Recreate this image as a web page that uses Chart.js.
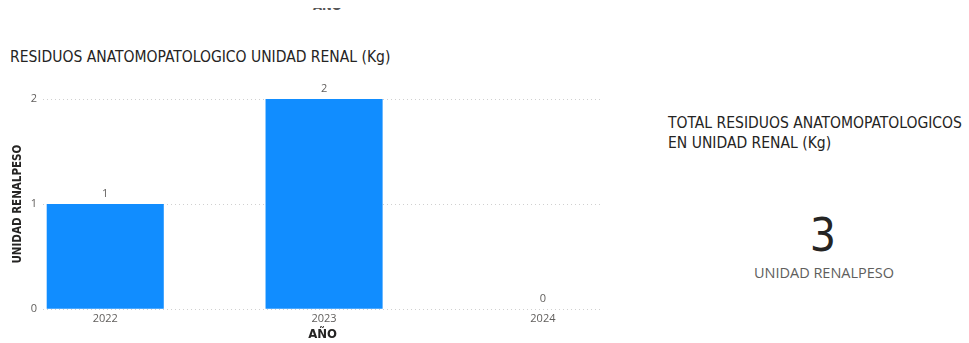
<!DOCTYPE html>
<html>
<head>
<meta charset="utf-8">
<script src="https://cdn.jsdelivr.net/npm/chart.js@4/dist/chart.umd.min.js"></script>
<style>
  body { margin: 0; background: #fff; width: 969px; height: 343px; overflow: hidden; position: relative; font-family: "DejaVu Sans Condensed", "Liberation Sans Narrow", sans-serif; }
  #wrap { position: absolute; left: 0; top: 0; width: 620px; height: 342px; }
  .txt { position: absolute; color: #252423; white-space: nowrap; }
  #topClip { position: absolute; left: 305px; top: 8px; width: 50px; height: 7px; overflow: hidden; }
  #topAxis { left: 8px; top: -10px; font-size: 13px; font-weight: bold; color: #555; }
  #title { left: 10px; top: 48px; font-size: 15.5px; }
  #cardTitle { left: 668px; top: 113px; font-size: 15.5px; line-height: 20px; }
  #cardValue { left: 823px; top: 208px; font-size: 46px; transform: translateX(-50%); font-family: "DejaVu Sans Condensed", sans-serif; }
  #cardLabel { left: 824px; top: 263px; font-size: 14.5px; color: #605e5c; transform: translateX(-50%); font-family: "Open Sans", sans-serif; }
</style>
</head>
<body>
<div id="topClip"><div class="txt" id="topAxis">AÑO</div></div>
<div class="txt" id="title">RESIDUOS ANATOMOPATOLOGICO UNIDAD RENAL (Kg)</div>
<div id="wrap"><canvas id="barChart"></canvas></div>
<div class="txt" id="cardTitle">TOTAL RESIDUOS ANATOMOPATOLOGICOS<br>EN UNIDAD RENAL (Kg)</div>
<div class="txt" id="cardValue"></div>
<div class="txt" id="cardLabel">UNIDAD RENALPESO</div>
<script>
const years = ["2022", "2023", "2024"];
const pesoKg = [1, 2, 0];
const yTicks = [0, 1, 2];

const totalKg = pesoKg.reduce((a, b) => a + b, 0);
document.getElementById("cardValue").textContent = totalKg;

// etiquetas de valor encima de cada barra
const valueLabels = {
  id: "valueLabels",
  afterDatasetsDraw(chart) {
    const ctx = chart.ctx;
    const meta = chart.getDatasetMeta(0);
    ctx.save();
    ctx.font = "11px 'Open Sans', sans-serif";
    ctx.fillStyle = "#605e5c";
    ctx.textAlign = "center";
    ctx.textBaseline = "bottom";
    meta.data.forEach(function (bar, i) {
      ctx.fillText(pesoKg[i], bar.x, bar.y - 5);
    });
    ctx.restore();
  },
};

const ctx = document.getElementById("barChart");
new Chart(ctx, {
  type: "bar",
  data: {
    datasets: [
      {
        label: "UNIDAD RENALPESO",
        data: years.map((y, i) => ({ x: i, y: pesoKg[i] })),
        backgroundColor: "#118DFF",
        categoryPercentage: 1,
        barPercentage: 0.535,
      },
    ],
  },
  plugins: [valueLabels],
  options: {
    responsive: true,
    maintainAspectRatio: false,
    animation: false,
    layout: { padding: { top: 99, right: 18, left: 11, bottom: 0 } },
    plugins: { legend: { display: false }, tooltip: { enabled: false } },
    scales: {
      x: {
        type: "linear",
        offset: false,
        min: -0.284,
        max: 2.27,
        grid: { display: false, drawTicks: false },
        border: { display: false },
        afterBuildTicks: (scale) => {
          scale.ticks = years.map((y, i) => ({ value: i }));
        },
        ticks: {
          callback: (v) => years[v],
          color: "#605e5c",
          font: { family: "'Open Sans', sans-serif", size: 11 },
          padding: 3,
        },
        title: {
          display: true,
          text: "AÑO",
          color: "#252423",
          font: { family: "'DejaVu Sans Condensed', sans-serif", size: 13, weight: "bold" },
          padding: { top: -2, bottom: 0 },
        },
      },
      y: {
        min: 0,
        max: 2,
        afterBuildTicks: (scale) => {
          scale.ticks = yTicks.map((v) => ({ value: v }));
        },
        grid: { color: "#d0d0d0", lineWidth: 1, tickLength: 0, drawTicks: false },
        border: { display: false, dash: [1, 3] },
        ticks: {
          color: "#605e5c",
          font: { family: "'Open Sans', sans-serif", size: 11 },
          padding: 6,
        },
        title: {
          display: true,
          text: "UNIDAD RENALPESO",
          color: "#252423",
          font: { family: "'DejaVu Sans Condensed', sans-serif", size: 11.5, weight: "bold" },
          padding: { top: 0, bottom: 0 },
        },
      },
    },
  },
});
</script>
</body>
</html>
